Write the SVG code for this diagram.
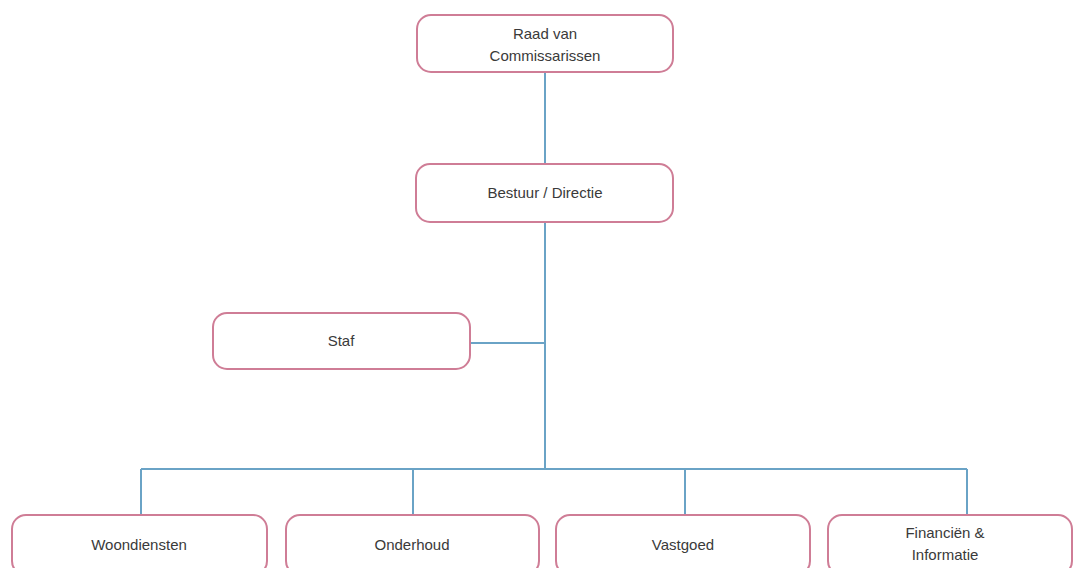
<svg xmlns="http://www.w3.org/2000/svg" width="1074" height="568" viewBox="0 0 1074 568">
<style>
.box{fill:#ffffff;stroke:#cf7d96;stroke-width:2}
.lbl{font-family:"Liberation Sans",Arial,sans-serif;font-size:15px;fill:#3a3a3a;text-anchor:middle}
.ln{fill:none;stroke:#6aa3c6;stroke-width:2}
</style>
<rect width="1074" height="568" fill="#ffffff"/>
<g id="connectors">
<path class="ln" d="M545 72V164M545 222V469M470 343H545M141 469H967M141 469V515M413 469V515M685 469V515M967 469V515"/>
</g>
<g id="raad">
<rect class="box" x="417" y="15" width="256" height="57" rx="14"/>
<text class="lbl" x="545" y="39">Raad van</text>
<text class="lbl" x="545" y="61">Commissarissen</text>
</g>
<g id="bestuur">
<rect class="box" x="416" y="164" width="257" height="58" rx="14"/>
<text class="lbl" x="545" y="198">Bestuur / Directie</text>
</g>
<g id="staf">
<rect class="box" x="213" y="313" width="257" height="56" rx="14"/>
<text class="lbl" x="341" y="346">Staf</text>
</g>
<g id="woondiensten">
<rect class="box" x="12" y="515" width="255" height="60" rx="14"/>
<text class="lbl" x="139" y="550">Woondiensten</text>
</g>
<g id="onderhoud">
<rect class="box" x="286" y="515" width="253" height="60" rx="14"/>
<text class="lbl" x="412" y="550">Onderhoud</text>
</g>
<g id="vastgoed">
<rect class="box" x="556" y="515" width="254" height="60" rx="14"/>
<text class="lbl" x="683" y="550">Vastgoed</text>
</g>
<g id="financien">
<rect class="box" x="828" y="515" width="244" height="60" rx="14"/>
<text class="lbl" x="945" y="538">Financiën &amp;</text>
<text class="lbl" x="945" y="560">Informatie</text>
</g>
</svg>
